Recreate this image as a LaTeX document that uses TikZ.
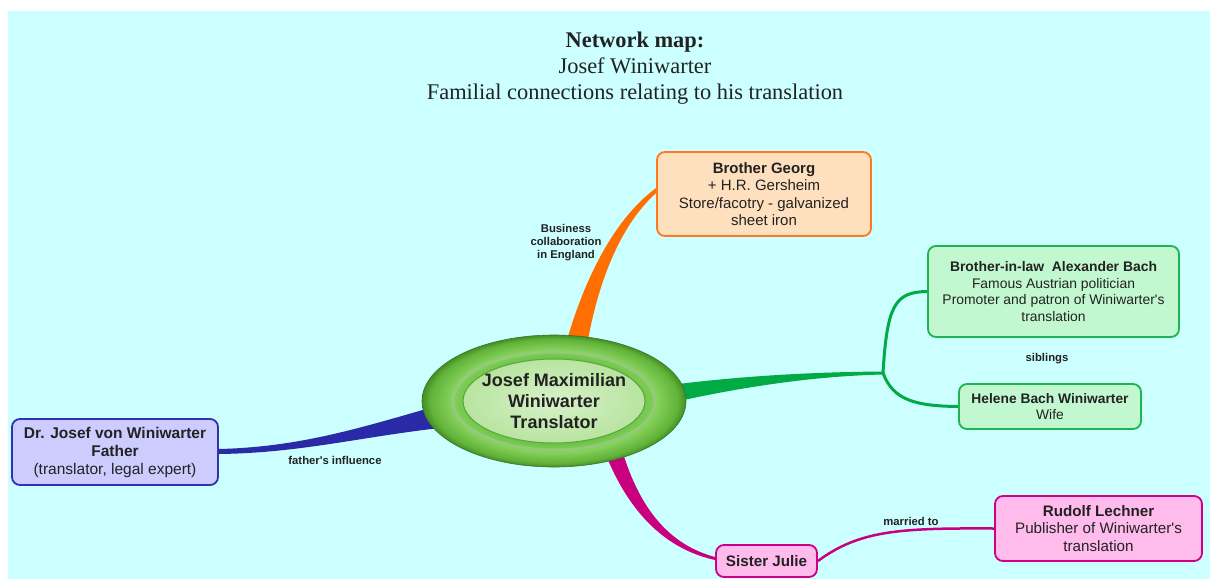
\documentclass[tikz,border=0pt]{standalone}
\usepackage{fontspec}
\setmainfont{Liberation Sans}
\newfontfamily\titlefont{Liberation Serif}
\usetikzlibrary{shapes.geometric,calc}
\pgfdeclarelayer{bg}
\pgfdeclarelayer{branch}
\pgfsetlayers{bg,branch,main}
\definecolor{bgcyan}{RGB}{204,255,255}
\definecolor{txt}{RGB}{34,34,34}
\definecolor{orangeB}{RGB}{255,110,0}
\definecolor{orangeD}{RGB}{255,120,30}
\definecolor{peach}{RGB}{255,224,190}
\definecolor{blueB}{RGB}{42,42,168}
\definecolor{blueD}{RGB}{50,50,175}
\definecolor{lav}{RGB}{204,204,255}
\definecolor{greenB}{RGB}{0,170,68}
\definecolor{greenD}{RGB}{30,180,80}
\definecolor{mint}{RGB}{194,248,208}
\definecolor{magB}{RGB}{200,0,128}
\definecolor{magD}{RGB}{205,0,135}
\definecolor{pinkF}{RGB}{255,187,236}
\definecolor{hubin}{RGB}{216,242,202}
\definecolor{hubmid}{RGB}{184,228,160}
\definecolor{hubedge}{RGB}{90,165,60}
\pgfdeclareradialshading{hubshade}{\pgfpoint{0bp}{0bp}}{rgb(0bp)=(0.48,0.80,0.32); rgb(16bp)=(0.42,0.76,0.27); rgb(19.5bp)=(0.52,0.82,0.36); rgb(23.5bp)=(0.38,0.70,0.22); rgb(25bp)=(0.26,0.56,0.15); rgb(50bp)=(0.26,0.56,0.15)}
\tikzset{
  box/.style={draw, line width=1.8pt, rounded corners=8pt, align=center, text=txt, inner sep=2pt,
    font={\fontsize{15}{17.3}\selectfont}},
  lbl/.style={align=center, text=txt, inner sep=0pt, font={\bfseries\fontsize{11.3}{13}\selectfont}},
  hubstyle/.style={ellipse, minimum width=264pt, minimum height=132pt, inner sep=0pt,
    shading=hubshade, draw=hubedge!70!black, line width=0.6pt, align=center, text=txt,
    font={\bfseries\fontsize{18}{21}\selectfont},
    path picture={
      \draw[line width=3pt, white!40!hubedge, opacity=0.7] (path picture bounding box.center) ellipse [x radius=101, y radius=49];
      \shade[inner color=hubin, outer color=hubmid, draw=hubedge, line width=1pt] (path picture bounding box.center) ellipse [x radius=91, y radius=42];
    }}
}
\newcommand{\ap}{\textquotesingle}
\begin{document}
\begin{tikzpicture}[x=1pt,y=-1pt]
\begin{pgfonlayer}{bg}
\fill[white] (0,0) rectangle (1210,579);
\fill[bgcyan] (8,11) rectangle (1210,579);
\end{pgfonlayer}
\useasboundingbox (0,0) rectangle (1210,579);

% title
\node[align=center, text=txt, font={\titlefont\fontsize{22.4}{26}\selectfont}] (title) at (635,68)
  {\textbf{Network map:}\\Josef Winiwarter\\Familial connections relating to his translation};

% nodes
\node[hubstyle] (hub) at (554,401) {Josef Maximilian\\Winiwarter\\Translator};
\node[box, fill=peach, draw=orangeD, minimum width=214pt, minimum height=84pt] (georg) at (764,194)
  {\textbf{Brother Georg}\\+ H.R. Gersheim\\Store/facotry - galvanized\\sheet iron};
\node[box, fill=mint, draw=greenD, minimum width=251pt, minimum height=91pt, font={\fontsize{13.9}{16.5}\selectfont}] (alex) at (1053.5,291.5)
  {\textbf{Brother-in-law\ \ Alexander Bach}\\Famous Austrian politician\\Promoter and patron of Winiwarter\ap s\\translation};
\node[box, fill=mint, draw=greenD, minimum width=182pt, minimum height=45pt, font={\fontsize{13.8}{16.5}\selectfont}] (helene) at (1050,406.5)
  {\textbf{Helene Bach Winiwarter}\\Wife};
\node[box, fill=lav, draw=blueD, minimum width=206pt, minimum height=66pt, font={\fontsize{15.5}{18}\selectfont}] (father) at (115,452)
  {\textbf{Dr. Josef von Winiwarter}\\\textbf{Father}\\(translator, legal expert)};
\node[box, fill=pinkF, draw=magD, minimum width=101pt, minimum height=32pt, font={\bfseries\fontsize{15.2}{17}\selectfont}] (julie) at (766.5,561)
  {Sister Julie};
\node[box, fill=pinkF, draw=magD, minimum width=207pt, minimum height=65pt, font={\fontsize{15.2}{17.5}\selectfont}] (rudolf) at (1098.5,528.5)
  {\textbf{Rudolf Lechner}\\Publisher of Winiwarter\ap s\\translation};

\coordinate (junc) at (883,373);

% connector labels
\node[lbl] (lbiz) at (566,243) {Business\\collaboration\\in England};
\node[lbl] (lsib) at (1047,359) {siblings};
\node[lbl] (lfat) at (335,460) {father\ap s influence};
\node[lbl] (lmar) at (911,521) {married to};

% branches
\begin{pgfonlayer}{branch}
\fill[orangeB] ($(hub.center)+(13,-61)$) .. controls (582,288) and (610,222) .. ($(georg.west)+(0,-6)$)
  -- ($(georg.west)+(0,-1)$) .. controls (617,228) and (597,290) .. ($(hub.center)+(34,-61)$) -- cycle;
\fill[blueB] ($(father.east)+(0,-3)$) .. controls (300,447) and (360,428) .. ($(hub.center)+(-114,4)$)
  -- ($(hub.center)+(-114,27)$) .. controls (360,437) and (300,453) .. ($(father.east)+(0,2)$) -- cycle;
\fill[greenB] ($(hub.center)+(116,-16)$) .. controls (750,375) and (820,372) .. ($(junc)+(0,-1.5)$)
  -- ($(junc)+(0,1.5)$) .. controls (820,376) and (750,385) .. ($(hub.center)+(116,2)$) -- cycle;
\draw[greenB, line width=3pt] (junc) .. controls (887,305) and (895,292) .. (alex.west);
\draw[greenB, line width=3pt] (junc) .. controls (893,400) and (915,406) .. (helene.west);
\fill[magB] ($(hub.center)+(68,49)$) .. controls (640,510) and (670,545) .. ($(julie.west)+(0,-4)$)
  -- ($(julie.west)+(0,-1)$) .. controls (660,548) and (625,505) .. ($(hub.center)+(50,49)$) -- cycle;
\draw[magB, line width=2.5pt] (julie.east) .. controls (860,530) and (900,528) .. (rudolf.west);
\end{pgfonlayer}
\end{tikzpicture}
\end{document}
